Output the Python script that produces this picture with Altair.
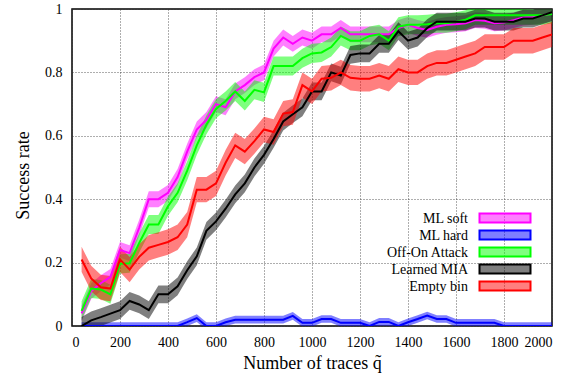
import altair as alt
import pandas as pd

# ---- data ----
traces = [40, 80, 120, 160, 200, 240, 280, 320, 360, 400,
          440, 480, 520, 560, 600, 640, 680, 720, 760, 800,
          840, 880, 920, 960, 1000, 1040, 1080, 1120, 1160, 1200,
          1240, 1280, 1320, 1360, 1400, 1440, 1480, 1520, 1560, 1600,
          1640, 1680, 1720, 1760, 1800, 1840, 1880, 1920, 1960, 2000]

ml_soft = [0.04, 0.11, 0.135, 0.155, 0.24, 0.23, 0.31, 0.40, 0.40, 0.42,
           0.47, 0.55, 0.62, 0.65, 0.70, 0.69, 0.74, 0.76, 0.785, 0.80,
           0.875, 0.91, 0.89, 0.91, 0.90, 0.92, 0.92, 0.94, 0.92, 0.92,
           0.92, 0.92, 0.92, 0.94, 0.95, 0.94, 0.934, 0.944, 0.95, 0.952,
           0.955, 0.965, 0.963, 0.955, 0.957, 0.965, 0.973, 0.975, 0.98, 0.985]

ml_hard = [0.0, 0.0, 0.0, 0.0, 0.0, 0.0, 0.0, 0.0, 0.0, 0.0,
           0.0, 0.012, 0.025, 0.0, 0.0, 0.012, 0.02, 0.02, 0.02, 0.02,
           0.02, 0.02, 0.032, 0.01, 0.01, 0.022, 0.022, 0.01, 0.01, 0.01,
           0.0, 0.013, 0.013, 0.0, 0.012, 0.022, 0.033, 0.022, 0.022, 0.01,
           0.01, 0.01, 0.01, 0.01, 0.0, 0.0, 0.0, 0.0, 0.0, 0.0]

off_on = [0.048, 0.118, 0.115, 0.10, 0.196, 0.198, 0.262, 0.32, 0.32, 0.378,
          0.42, 0.49, 0.57, 0.635, 0.685, 0.71, 0.74, 0.71, 0.745, 0.737,
          0.82, 0.82, 0.82, 0.845, 0.86, 0.863, 0.88, 0.915, 0.90, 0.90,
          0.915, 0.92, 0.90, 0.944, 0.95, 0.95, 0.952, 0.955, 0.955, 0.96,
          0.966, 0.98, 0.98, 0.98, 0.98, 0.98, 0.98, 0.98, 0.98, 0.984]

learned_mia = [0.0, 0.018, 0.028, 0.039, 0.05, 0.079, 0.068, 0.05, 0.10, 0.10,
               0.125, 0.176, 0.22, 0.30, 0.33, 0.37, 0.415, 0.45, 0.50, 0.54,
               0.59, 0.645, 0.668, 0.69, 0.74, 0.74, 0.80, 0.79, 0.855, 0.86,
               0.86, 0.89, 0.89, 0.93, 0.90, 0.91, 0.94, 0.96, 0.96, 0.96,
               0.96, 0.97, 0.97, 0.96, 0.96, 0.96, 0.97, 0.97, 0.98, 0.99]

empty_bin = [0.21, 0.15, 0.122, 0.118, 0.21, 0.178, 0.218, 0.247, 0.256, 0.265,
             0.28, 0.32, 0.43, 0.43, 0.45, 0.515, 0.57, 0.55, 0.583, 0.62,
             0.612, 0.67, 0.675, 0.76, 0.74, 0.78, 0.783, 0.80, 0.783, 0.78,
             0.78, 0.79, 0.78, 0.81, 0.80, 0.80, 0.82, 0.83, 0.83, 0.84,
             0.85, 0.86, 0.88, 0.88, 0.88, 0.90, 0.90, 0.90, 0.91, 0.92]

series_names = ["ML soft", "ML hard", "Off-On Attack", "Learned MIA", "Empty bin"]
series_values = [ml_soft, ml_hard, off_on, learned_mia, empty_bin]
band_halfwidth = [0.025, 0.012, 0.03, 0.028, 0.04]
series_colors = ["#ff00ff", "#0000ff", "#00ff00", "#000000", "#ff0000"]

x_ticks = [0, 200, 400, 600, 800, 1000, 1200, 1400, 1600, 1800, 2000]
y_ticks = [0, 0.2, 0.4, 0.6, 0.8, 1]

rows = []
for name, vals, hw in zip(series_names, series_values, band_halfwidth):
    for x, v in zip(traces, vals):
        rows.append({"x": x, "value": v, "lo": v - hw, "hi": v + hw, "series": name})
df = pd.DataFrame(rows)

FONT = "Liberation Serif"
color_scale = alt.Scale(domain=series_names, range=series_colors)

x_enc = alt.X("x:Q", scale=alt.Scale(domain=[0, 2000], nice=False),
              axis=alt.Axis(values=x_ticks, format="d", title="Number of traces q\u0303",
                            titleY=42, titleBaseline="alphabetic", labelPadding=9,
                            labelFont=FONT, labelFontSize=14, titleFont=FONT, titleFontSize=18))
y_scale = alt.Scale(domain=[0, 1], nice=False)
y_axis = alt.Axis(values=y_ticks, format="~g", title="Success rate",
                  titleX=-44, titleY=166, titleBaseline="alphabetic", labelPadding=10,
                  labelFont=FONT, labelFontSize=14, titleFont=FONT, titleFontSize=18)

bands = alt.Chart(df).mark_area(opacity=0.5, clip=True).encode(
    x=x_enc,
    y=alt.Y("lo:Q", scale=y_scale, axis=y_axis),
    y2="hi:Q",
    color=alt.Color("series:N", scale=color_scale, legend=None),
)

lines = alt.Chart(df).mark_line(strokeWidth=2, clip=True).encode(
    x=alt.X("x:Q"),
    y=alt.Y("value:Q"),
    color=alt.Color("series:N", scale=color_scale, legend=None),
)

# manual legend (labels left of swatches, inside plot, lower right)
legend_layers = []
row_y0 = 209
row_step = 17
for i, (name, col) in enumerate(zip(series_names, series_colors)):
    yc = row_y0 + row_step * i
    one = alt.Data(values=[{"k": 1}])
    legend_layers.append(
        alt.Chart(one).mark_rect(fill=col, fillOpacity=0.5, stroke=col, strokeWidth=2).encode(
            x=alt.value(407.5), x2=alt.value(458.5),
            y=alt.value(yc - 4.5), y2=alt.value(yc + 4.5))
    )
    legend_layers.append(
        alt.Chart(one).mark_text(text=name, align="right", baseline="middle",
                                 font=FONT, fontSize=14, color="black").encode(
            x=alt.value(396), y=alt.value(yc + 0.5))
    )

chart = alt.layer(bands, lines, *legend_layers).properties(
    width=480, height=317,
    padding={"left": 72, "top": 9, "right": 31, "bottom": 55},
    autosize=alt.AutoSizeParams(type="none"),
).configure(
    font=FONT
).configure_view(
    stroke="black", strokeWidth=1.5
).configure_axis(
    labelFont=FONT, labelFontSize=14, labelColor="black",
    titleFont=FONT, titleFontSize=18, titleFontWeight="normal", titleColor="black",
    grid=True, gridColor="#333333", gridDash=[1, 2], gridWidth=0.8, gridOpacity=1,
    domain=False, ticks=False, tickSize=0,
)

chart.save("out.html", embed_options={"renderer": "svg", "actions": False})
